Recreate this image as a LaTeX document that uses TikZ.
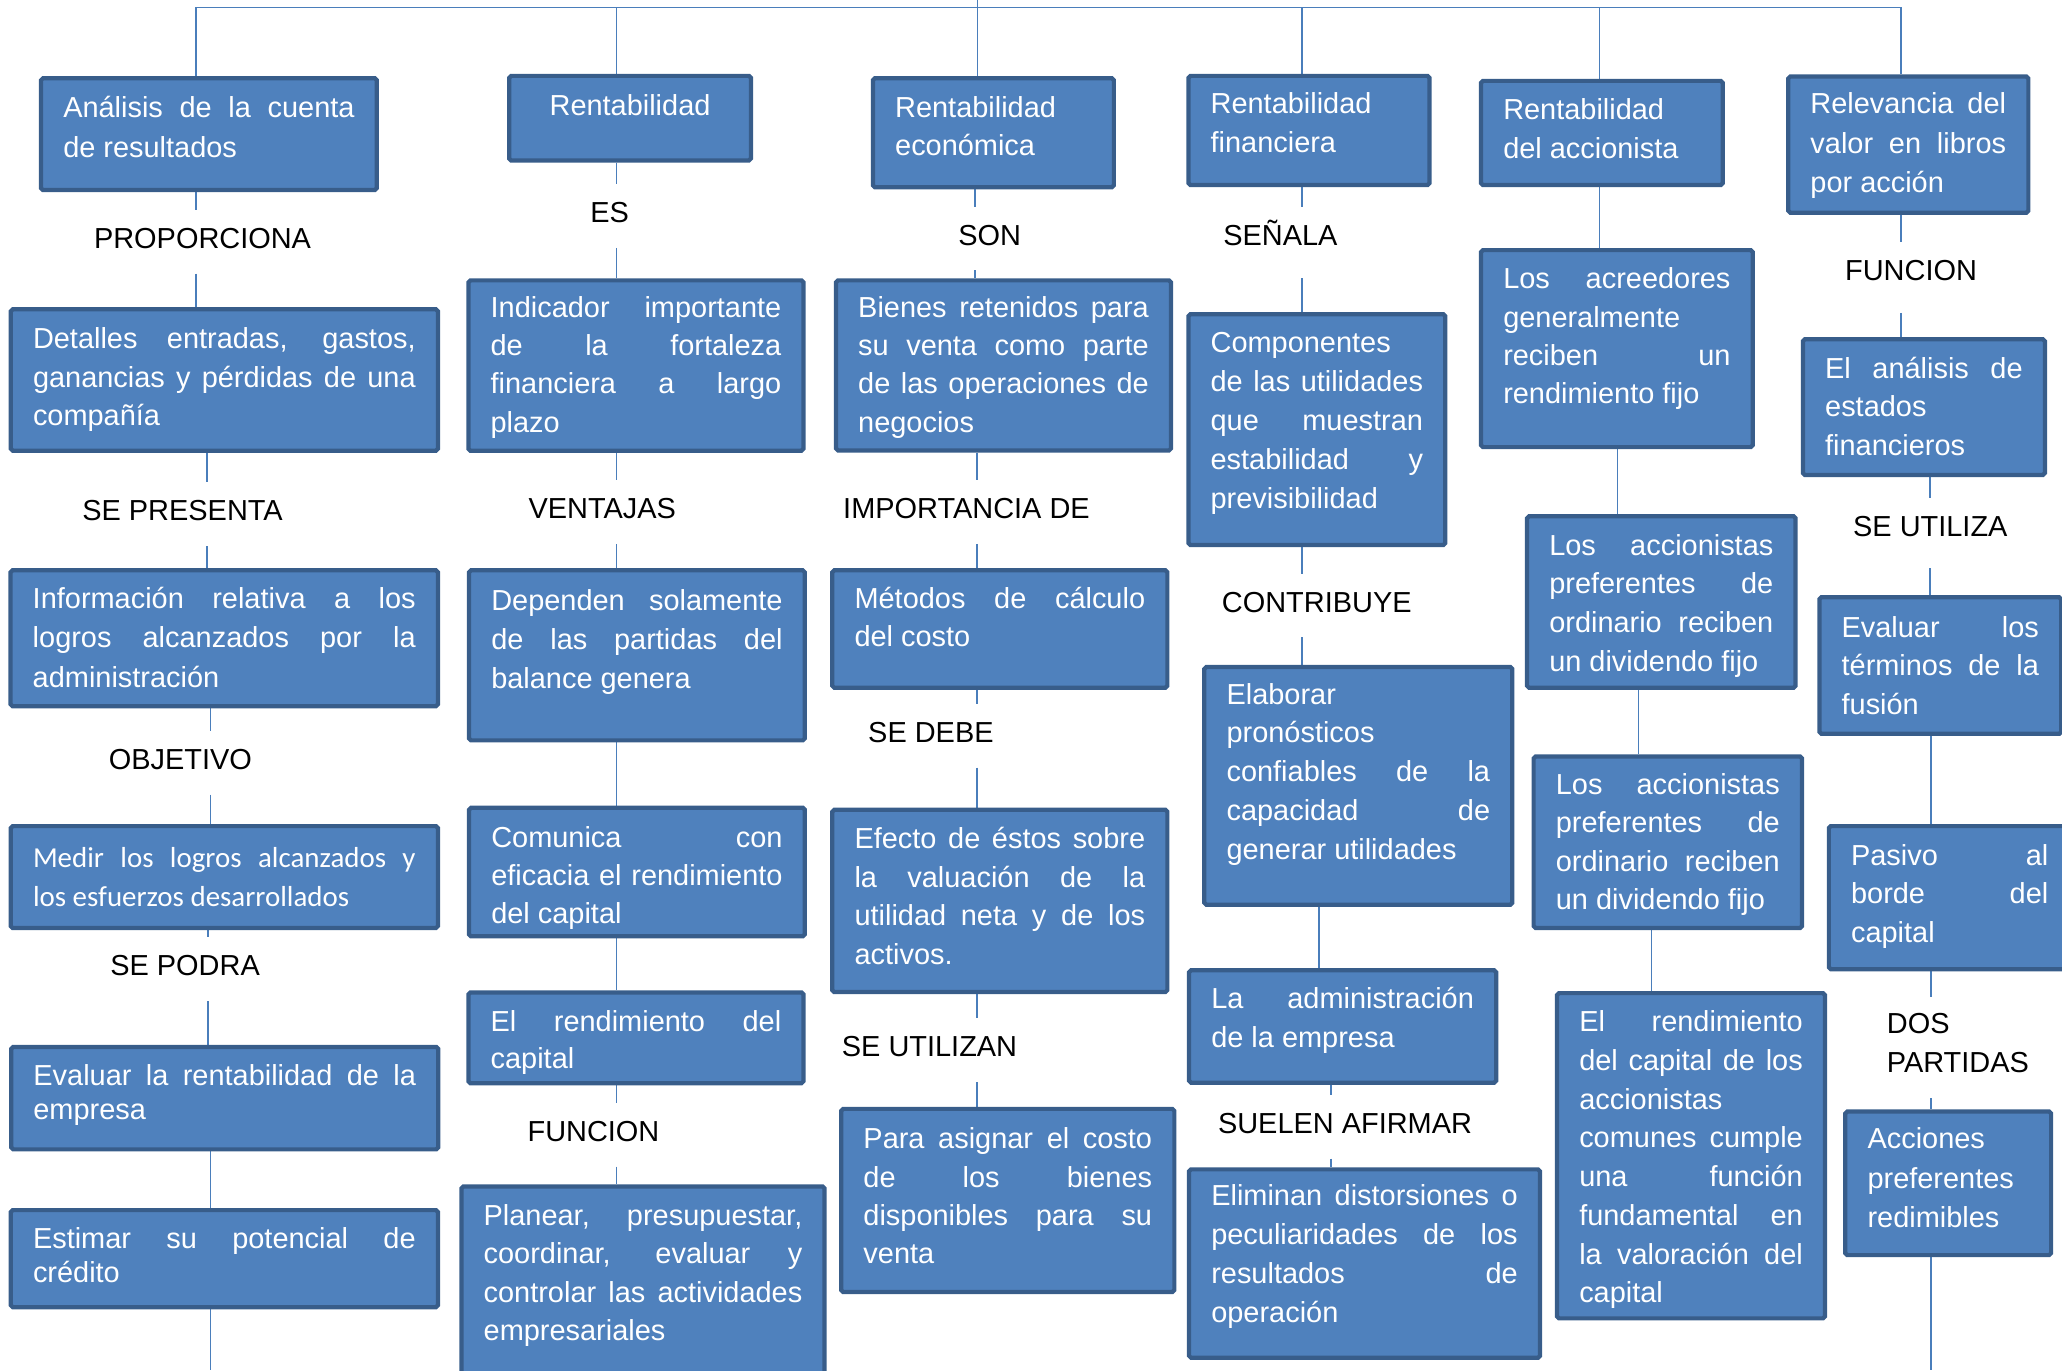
\documentclass[tikz,border=0pt]{standalone}
\usepackage{fontspec}
\setmainfont{Liberation Sans}
\newfontfamily\calfont{Carlito}
\usetikzlibrary{backgrounds}
\definecolor{fillc}{HTML}{4F81BD}
\definecolor{bordc}{HTML}{385D8A}
\definecolor{linec}{HTML}{4A7EBB}
\newcommand{\JL}[1]{\makebox[\linewidth][s]{#1}\\}
\newcommand{\bt}[5][29.5]{%
\hspace*{16.9pt}%
\parbox[c][\dimexpr#3pt-3.2pt\relax][t]{\dimexpr#2pt-37pt\relax}{\fontsize{22}{#1}\selectfont\rule{0pt}{\dimexpr#4pt-1.6pt\relax}#5}%
\hspace*{16.9pt}}
\tikzset{
  box/.style={draw=bordc, line width=3.2pt, fill=fillc, text=white, inner sep=0pt, anchor=north west, rounded corners=1.5pt, xshift=1.6pt, yshift=-1.6pt},
  lbl/.style={anchor=base west, inner sep=0pt, text height=29pt, text depth=19pt, font=\fontsize{22}{26}\selectfont, text=black},
  conn/.style={draw=linec, line width=1.1pt}
}
\begin{document}
\begin{tikzpicture}[x=1pt,y=-1pt]
\useasboundingbox (0,0) rectangle (1568,1042);
% column x positions
\coordinate (bus) at (0,5.5);
\coordinate (xA1) at (149,0);
\coordinate (xA2) at (157.5,0);
\coordinate (xA3) at (160,0);
\coordinate (xA4) at (158,0);
\coordinate (xA5) at (160,0);
\coordinate (botA) at (160,1042);
\coordinate (xB) at (469,0);
\coordinate (xC0) at (743.5,0);
\coordinate (xC1) at (741.5,0);
\coordinate (xC2) at (743,0);
\coordinate (xD) at (990,0);
\coordinate (xD3) at (1003,0);
\coordinate (xD4) at (1012,0);
\coordinate (xE0) at (1216.4,0);
\coordinate (xE2) at (1230,0);
\coordinate (xE3) at (1246,0);
\coordinate (xE4) at (1256,0);
\coordinate (xF0) at (1445.4,0);
\coordinate (xF2) at (1467.7,0);
\coordinate (xF3) at (1468.5,0);
\coordinate (botF) at (1468.5,1042);

% ---------- column A ----------
\node[box] (a1) at (28,56.3) {\bt[30.5]{258.5}{88.2}{31.2}{\JL{Análisis de la cuenta}de resultados}};
\node[box] (a2) at (5,232) {\bt[29.2]{328}{110.7}{31.6}{\JL{Detalles entradas, gastos,}\JL{ganancias y pérdidas de una}compañía}};
\node[box] (a3) at (4.8,430.5) {\bt[30]{328.2}{106.5}{30.5}{\JL{Información relativa a los}\JL{logros alcanzados por la}administración}};
\node[box] (a4) at (5,625) {\bt[30]{328}{80.7}{33}{\calfont\JL{Medir los logros alcanzados y}los esfuerzos desarrollados}};
\node[box] (a5) at (5.3,793) {\bt[26]{328}{81}{30.7}{\JL{Evaluar la rentabilidad de la}empresa}};
\node[box] (a6) at (5,917) {\bt[25.5]{328}{77}{31}{\JL{Estimar su potencial de}crédito}};
\node[lbl] (l1) at (71.3,188.8) {PROPORCIONA};
\node[lbl] (l2) at (62.4,396) {SE PRESENTA};
\node[lbl] (l3) at (82.5,585) {OBJETIVO};
\node[lbl] (l4) at (83.7,742) {SE PODRA};

% ---------- column B ----------
\node[box] (b1) at (384,54.5) {\bt{187}{67.5}{31.5}{\centering Rentabilidad}};
\node[box] (b2) at (353,210) {\bt[29.2]{258}{132.7}{29.6}{\JL{Indicador importante}\JL{de la fortaleza}\JL{financiera a largo}plazo}};
\node[box] (b3) at (353.5,430.5) {\bt[29.7]{258.5}{132.5}{32.2}{\JL{Dependen solamente}\JL{de las partidas del}balance genera}};
\node[box] (b4) at (353.5,611) {\bt[29.2]{258.5}{101}{31.6}{\JL{Comunica con}\JL{eficacia el rendimiento}del capital}};
\node[box] (b5) at (353,751.5) {\bt[28]{258}{72.2}{31.5}{\JL{El rendimiento del}capital}};
\node[box] (b6) at (347.7,899) {\bt[29.2]{279.3}{160}{31.2}{\JL{Planear, presupuestar,}\JL{coordinar, evaluar y}\JL{controlar las actividades}empresariales}};
\node[lbl] (lES) at (448.7,169.3) {ES};
\node[lbl] (lVEN) at (401.7,394.3) {VENTAJAS};
\node[lbl] (lFUB) at (401,868) {FUNCION};

% ---------- column C ----------
\node[box] (c1) at (660.6,56.3) {\bt{186.4}{86.1}{31.2}{Rentabilidad\\económica}};
\node[box] (c2) at (632.5,210) {\bt[29.2]{258}{132.5}{29.6}{\JL{Bienes retenidos para}\JL{su venta como parte}\JL{de las operaciones de}negocios}};
\node[box] (c3) at (629.7,430.5) {\bt[29.1]{258}{92.5}{30.7}{\JL{Métodos de cálculo}del costo}};
\node[box] (c4) at (629.7,612.6) {\bt[29.4]{258}{141.8}{31.1}{\JL{Efecto de éstos sobre}\JL{la valuación de la}\JL{utilidad neta y de los}activos.}};
\node[box] (c5) at (636.5,840) {\bt[29.1]{256.5}{142.5}{32}{\JL{Para asignar el costo}\JL{de los bienes}\JL{disponibles para su}venta}};
\node[lbl] (lSON) at (728.5,186.3) {SON};
\node[lbl] (lIMP) at (641,394.3) {IMPORTANCIA DE};
\node[lbl] (lDEB) at (660,564.5) {SE DEBE};
\node[lbl] (lUTN) at (640,803.6) {SE UTILIZAN};

% ---------- column D ----------
\node[box] (d1) at (900.5,54.5) {\bt[29.6]{186.5}{86.2}{30.5}{Rentabilidad\\financiera}};
\node[box] (d2) at (900.5,235.7) {\bt[29.6]{198.5}{178.8}{31}{Componentes\\\JL{de las utilidades}\JL{que muestran}\JL{estabilidad y}previsibilidad}};
\node[box] (d3) at (912.6,504) {\bt[29.5]{237.4}{184}{29.8}{Elaborar\\pronósticos\\\JL{confiables de la}\JL{capacidad de}generar utilidades}};
\node[box] (d4) at (901,734.6) {\bt[29.2]{236.7}{88.7}{30.9}{\JL{La administración}de la empresa}};
\node[box] (d5) at (901,886) {\bt[29.7]{270}{146.5}{29}{\JL{Eliminan distorsiones o}\JL{peculiaridades de los}\JL{resultados de}operación}};
\node[lbl, text depth=25pt] (lSEN) at (930,186.3) {SEÑALA};
\node[lbl] (lCON) at (929,465.4) {CONTRIBUYE};
\node[lbl] (lSUE) at (926,861.8) {SUELEN AFIRMAR};

% ---------- column E ----------
\node[box] (e1) at (1123,58.3) {\bt[29.4]{187}{82.4}{30.9}{Rentabilidad\\del accionista}};
\node[box] (e2) at (1123,187) {\bt[29.2]{209.8}{153}{31}{\JL{Los acreedores}generalmente\\\JL{reciben un}rendimiento fijo}};
\node[box] (e3) at (1158,389.4) {\bt[29.4]{207.4}{133.6}{31.1}{\JL{Los accionistas}\JL{preferentes de}\JL{ordinario reciben}un dividendo fijo}};
\node[box] (e4) at (1163,572) {\bt[29.3]{207.3}{133.7}{30.3}{\JL{Los accionistas}\JL{preferentes de}\JL{ordinario reciben}un dividendo fijo}};
\node[box] (e5) at (1180.8,752) {\bt[29.5]{207}{250.5}{30.7}{\JL{El rendimiento}\JL{del capital de los}accionistas\\\JL{comunes cumple}\JL{una función}\JL{fundamental en}\JL{la valoración del}capital}};

% ---------- column F ----------
\node[box] (f1) at (1356.6,55) {\bt[29.75]{185.8}{106.7}{30}{\JL{Relevancia del}\JL{valor en libros}por acción}};
\node[box] (f2) at (1367.8,254.8) {\bt[29.3]{187.2}{106.4}{31.2}{\JL{El análisis de}estados\\financieros}};
\node[box] (f3) at (1380.3,451) {\bt[29.4]{187.1}{107}{32}{\JL{Evaluar los}\JL{términos de la}fusión}};
\node[box] (f4) at (1387.5,625) {\bt[29.5]{187}{112}{31.3}{\JL{Pasivo al}\JL{borde del}capital}};
\node[box] (f5) at (1400,842) {\bt[29.8]{159.7}{112.4}{30}{Acciones\\preferentes\\redimibles}};
\node[lbl, text depth=24.4pt] (lFUF) at (1402.9,213.4) {FUNCION};
\node[lbl, text depth=24pt] (lUTA) at (1409,408) {SE UTILIZA};
\node[lbl, text height=27.7pt, text depth=49.3pt] (lDOS) at (1434.6,785.7) {\parbox[t]{130pt}{\fontsize{22}{30}\selectfont DOS\\PARTIDAS}};

% ---------- connectors ----------
\begin{pgfonlayer}{background}
\draw[conn] (a1.north -| xA1) -- (bus -| xA1) -- (bus -| xF0) -- (f1.north -| xF0);
\draw[conn] (b1.north -| xB) -- (bus -| xB);
\draw[conn] (c1.north -| xC0) -- (xC0);
\draw[conn] (d1.north -| xD) -- (bus -| xD);
\draw[conn] (e1.north -| xE0) -- (bus -| xE0);
% A
\draw[conn] (a1.south -| xA1) -- (l1.north -| xA1);
\draw[conn] (l1.south -| xA1) -- (a2.north -| xA1);
\draw[conn] (a2.south -| xA2) -- (l2.north -| xA2);
\draw[conn] (l2.south -| xA2) -- (a3.north -| xA2);
\draw[conn] (a3.south -| xA3) -- (l3.north -| xA3);
\draw[conn] (l3.south -| xA3) -- (a4.north -| xA3);
\draw[conn] (a4.south -| xA4) -- (l4.north -| xA4);
\draw[conn] (l4.south -| xA4) -- (a5.north -| xA4);
\draw[conn] (a5.south -| xA5) -- (a6.north -| xA5);
\draw[conn] (a6.south -| xA5) -- (botA);
% B
\draw[conn] (b1.south -| xB) -- (lES.north -| xB);
\draw[conn] (lES.south -| xB) -- (b2.north -| xB);
\draw[conn] (b2.south -| xB) -- (lVEN.north -| xB);
\draw[conn] (lVEN.south -| xB) -- (b3.north -| xB);
\draw[conn] (b3.south -| xB) -- (b4.north -| xB);
\draw[conn] (b4.south -| xB) -- (b5.north -| xB);
\draw[conn] (b5.south -| xB) -- (lFUB.north -| xB);
\draw[conn] (lFUB.south -| xB) -- (b6.north -| xB);
% C
\draw[conn] (c1.south -| xC1) -- (lSON.north -| xC1);
\draw[conn] (lSON.south -| xC1) -- (c2.north -| xC1);
\draw[conn] (c2.south -| xC2) -- (lIMP.north -| xC2);
\draw[conn] (lIMP.south -| xC2) -- (c3.north -| xC2);
\draw[conn] (c3.south -| xC2) -- (lDEB.north -| xC2);
\draw[conn] (lDEB.south -| xC2) -- (c4.north -| xC2);
\draw[conn] (c4.south -| xC2) -- (lUTN.north -| xC2);
\draw[conn] (lUTN.south -| xC2) -- (c5.north -| xC2);
% D
\draw[conn] (d1.south -| xD) -- (lSEN.north -| xD);
\draw[conn] (lSEN.south -| xD) -- (d2.north -| xD);
\draw[conn] (d2.south -| xD) -- (lCON.north -| xD);
\draw[conn] (lCON.south -| xD) -- (d3.north -| xD);
\draw[conn] (d3.south -| xD3) -- (d4.north -| xD3);
\draw[conn] (d4.south -| xD4) -- (lSUE.north -| xD4);
\draw[conn] (lSUE.south -| xD4) -- (d5.north -| xD4);
% E
\draw[conn] (e1.south -| xE0) -- (e2.north -| xE0);
\draw[conn] (e2.south -| xE2) -- (e3.north -| xE2);
\draw[conn] (e3.south -| xE3) -- (e4.north -| xE3);
\draw[conn] (e4.south -| xE4) -- (e5.north -| xE4);
% F
\draw[conn] (f1.south -| xF0) -- (lFUF.north -| xF0);
\draw[conn] (lFUF.south -| xF0) -- (f2.north -| xF0);
\draw[conn] (f2.south -| xF2) -- (lUTA.north -| xF2);
\draw[conn] (lUTA.south -| xF2) -- (f3.north -| xF2);
\draw[conn] (f3.south -| xF3) -- (f4.north -| xF3);
\draw[conn] (f4.south -| xF3) -- (lDOS.north -| xF3);
\draw[conn] (lDOS.south -| xF3) -- (f5.north -| xF3);
\draw[conn] (f5.south -| xF3) -- (botF);
\end{pgfonlayer}
\end{tikzpicture}
\end{document}
